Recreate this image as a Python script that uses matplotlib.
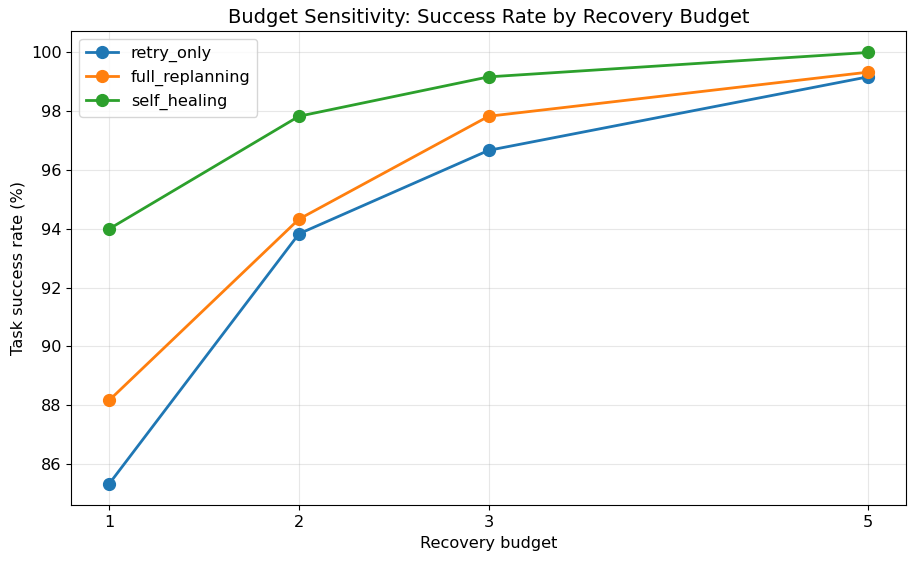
import numpy as np
import matplotlib
matplotlib.use("Agg")
from matplotlib import pyplot as plt

# Recovery budgets and success rates (%)
budgets = [1, 2, 3, 5]
retry_only = [85.33, 93.83, 96.67, 99.17]
full_replanning = [88.17, 94.33, 97.83, 99.33]
self_healing = [94.0, 97.83, 99.17, 100.0]

series = {
    "retry_only": retry_only,
    "full_replanning": full_replanning,
    "self_healing": self_healing,
}

fig, ax = plt.subplots(figsize=(9.15, 5.62), dpi=100)

for name, vals in series.items():
    ax.plot(budgets, vals, marker="o", linewidth=2, markersize=8.5, label=name)

ax.set_xticks(budgets)
ax.set_xlabel("Recovery budget", fontsize=11.6)
ax.set_ylabel("Task success rate (%)", fontsize=11.6)
ax.set_title("Budget Sensitivity: Success Rate by Recovery Budget", fontsize=14)
ax.tick_params(labelsize=11.6)
ax.grid(True, alpha=0.3)
ax.legend(fontsize=11.6, loc="upper left")

fig.subplots_adjust(left=0.078, right=0.99, top=0.945, bottom=0.101)
fig.savefig("out.png", dpi=100)
